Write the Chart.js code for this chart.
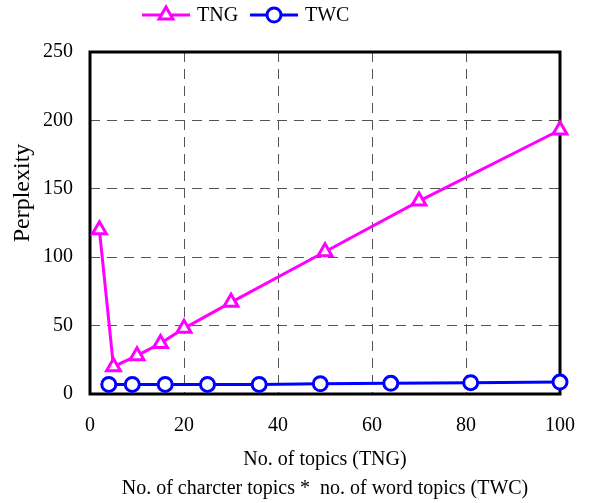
<!DOCTYPE html>
<html>
<head>
<meta charset="utf-8">
<script src="https://cdn.jsdelivr.net/npm/chart.js@4"></script>
<style>
  body { margin: 0; background: #fff; }
</style>
</head>
<body>
<canvas id="perplexityChart" width="590" height="503"></canvas>
<script>
const tngX = [2, 5, 10, 15, 20, 30, 50, 70, 100];
const tngY = [120, 20, 28, 37, 48, 67, 104, 141, 193];
const twcX = [4, 9, 16, 25, 36, 49, 64, 81, 100];
const twcY = [7, 7, 7, 7, 7, 7.5, 7.8, 8.3, 8.7];
const xTicks = [0, 20, 40, 60, 80, 100];
const yTicks = [0, 50, 100, 150, 200, 250];

const FONT = 'Liberation Serif';

// frame around the plot, under the markers
const framePlugin = {
    id: 'frame',
    beforeDatasetsDraw(chart) {
        const { ctx, chartArea: a } = chart;
        ctx.save();
        ctx.strokeStyle = '#000';
        ctx.lineWidth = 3;
        ctx.strokeRect(a.left, a.top, a.right - a.left, a.bottom - a.top);
        ctx.restore();
    }
};

// legend with line + marker, and the off-centre y title
const legendPlugin = {
    id: 'lineLegend',
    afterDraw(chart) {
        const ctx = chart.ctx;
        const items = [
            { ds: chart.data.datasets[0], x: 142 },
            { ds: chart.data.datasets[1], x: 250 }
        ];
        ctx.save();
        ctx.font = '20px "' + FONT + '"';
        ctx.textBaseline = 'middle';
        const y = 15;
        items.forEach(it => {
            ctx.strokeStyle = it.ds.borderColor;
            ctx.lineWidth = 3;
            ctx.beginPath();
            ctx.moveTo(it.x, y);
            ctx.lineTo(it.x + 48, y);
            ctx.stroke();
            ctx.fillStyle = '#fff';
            Chart.helpers.drawPoint(ctx, {
                pointStyle: it.ds.pointStyle,
                radius: it.ds.pointRadius,
                borderWidth: 3
            }, it.x + 24, y);
            ctx.fillStyle = '#000';
            ctx.fillText(it.ds.label, it.x + 55, y + 1);
        });

        ctx.font = '24px "' + FONT + '"';
        ctx.translate(23, 193);
        ctx.rotate(-Math.PI / 2);
        ctx.textAlign = 'center';
        ctx.fillText('Perplexity', 0, 0);
        ctx.restore();
    }
};

Chart.defaults.font.family = FONT;
Chart.defaults.color = '#000';

new Chart(document.getElementById('perplexityChart'), {
    type: 'line',
    data: {
        datasets: [{
            label: 'TNG',
            data: tngX.map((x, i) => ({ x, y: tngY[i] })),
            borderColor: '#ff00ff',
            backgroundColor: '#ffffff',
            borderWidth: 3,
            pointStyle: 'triangle',
            pointRadius: 8,
            pointBorderWidth: 3,
            clip: false
        }, {
            label: 'TWC',
            data: twcX.map((x, i) => ({ x, y: twcY[i] })),
            borderColor: '#0000ff',
            backgroundColor: '#ffffff',
            borderWidth: 3,
            pointStyle: 'circle',
            pointRadius: 7,
            pointBorderWidth: 3,
            clip: false
        }]
    },
    options: {
        responsive: false,
        animation: false,
        layout: { padding: { left: 0, right: 30, top: 52, bottom: 0 } },
        plugins: {
            legend: { display: false },
            tooltip: { enabled: false }
        },
        scales: {
            x: {
                type: 'linear',
                min: 0,
                max: 100,
                afterBuildTicks: s => { s.ticks = xTicks.map(v => ({ value: v })); },
                afterFit: s => { s.height = 109; s.paddingLeft = 0; s.paddingRight = 0; },
                ticks: { font: { size: 20 }, padding: 20 },
                grid: {
                    color: ctx => (ctx.tick.value === 0 || ctx.tick.value === 100) ? 'rgba(0,0,0,0)' : '#555',
                    lineWidth: 1,
                    drawTicks: false
                },
                border: { display: false, dash: [10, 7] },
                title: {
                    display: true,
                    text: ['No. of topics (TNG)', 'No. of charcter topics *  no. of word topics (TWC)'],
                    font: { size: 20, lineHeight: 1.45 },
                    padding: { top: 0, bottom: 0 }
                }
            },
            y: {
                min: 0,
                max: 250,
                afterBuildTicks: s => { s.ticks = yTicks.map(v => ({ value: v })); },
                afterFit: s => { s.width = 90; s.paddingTop = 0; s.paddingBottom = 0; },
                ticks: { font: { size: 20 }, padding: 17 },
                grid: {
                    color: ctx => (ctx.tick.value === 0 || ctx.tick.value === 250) ? 'rgba(0,0,0,0)' : '#555',
                    lineWidth: 1,
                    drawTicks: false
                },
                border: { display: false, dash: [10, 7] }
            }
        }
    },
    plugins: [framePlugin, legendPlugin]
});
</script>
</body>
</html>
